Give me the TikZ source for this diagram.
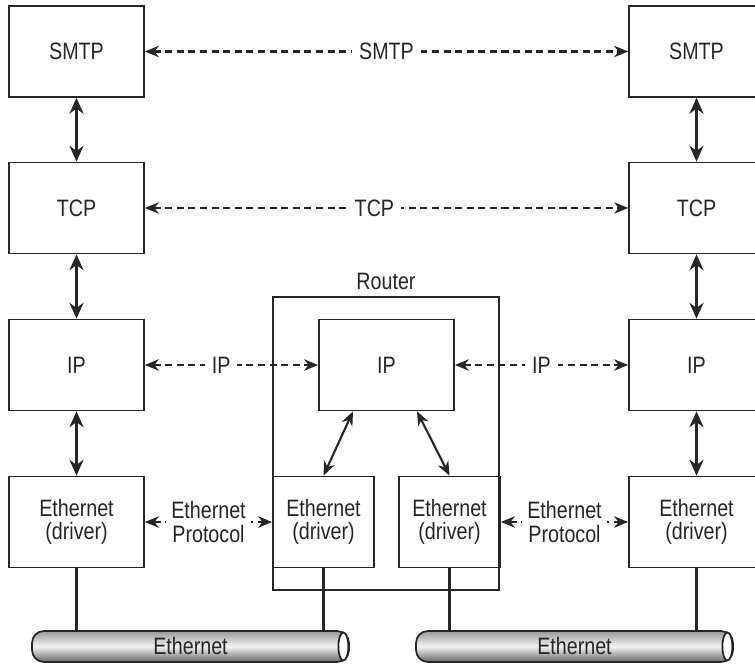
\documentclass[tikz,border=0pt]{standalone}
\usepackage{fontspec}
\setmainfont{Liberation Sans}[FakeStretch=0.83]
\usetikzlibrary{arrows.meta}

\begin{document}
\begin{tikzpicture}[
  font=\fontsize{13.5}{13.3}\selectfont,
  layer/.style={draw=black!85, line width=1pt, minimum width=2.7cm, minimum height=1.82cm, align=center, text=black!85},
  ethbox/.style={layer, minimum width=2.02cm},
  stack/.style={{Stealth[length=9pt,width=8pt]}-{Stealth[length=9pt,width=8pt]}, line width=1.8pt, black!85},
  peer/.style={{Stealth[length=8pt,width=6.5pt]}-{Stealth[length=8pt,width=6.5pt]}, dash pattern=on 4pt off 2.6pt, line width=1.2pt, black!85},
  link/.style={{Stealth[length=8pt,width=6.5pt]}-{Stealth[length=8pt,width=6.5pt]}, line width=1.2pt, black!85},
  tag/.style={fill=white, inner xsep=0.14cm, text=black!85, align=center},
  wire/.style={draw=black!85, line width=1.3pt},
  cable/.style={draw=black!85, line width=1pt, rounded corners=0.24cm, minimum width=6.34cm, minimum height=0.62cm, top color=black!40, bottom color=black!60, middle color=black!5, text=black!85},
  cableend/.style={draw=black!85, line width=1pt, fill=white}
]
\useasboundingbox (0,0) rectangle (15.1,13.28);

% router frame
\node[draw=black!85, line width=1pt, minimum width=4.52cm, minimum height=5.86cm, label={[text=black!85]above:Router}] (router) at (7.72,4.41) {};

% host A
\node[layer] (smtpA) at (1.53,12.25) {SMTP};
\node[layer] (tcpA) at (1.53,9.12) {TCP};
\node[layer] (ipA) at (1.53,5.98) {IP};
\node[layer] (ethA) at (1.53,2.84) {Ethernet\\(driver)};

% host B
\node[layer] (smtpB) at (13.93,12.25) {SMTP};
\node[layer] (tcpB) at (13.93,9.12) {TCP};
\node[layer] (ipB) at (13.93,5.98) {IP};
\node[layer] (ethB) at (13.93,2.84) {Ethernet\\(driver)};

% router layers
\node[layer] (ipR) at (7.73,5.98) {IP};
\node[ethbox] (ethRL) at (6.47,2.84) {Ethernet\\(driver)};
\node[ethbox] (ethRR) at (8.99,2.84) {Ethernet\\(driver)};

% cables
\node[cable] (cableA) at (3.81,0.35) {Ethernet};
\node[cable] (cableB) at (11.49,0.35) {Ethernet};
\draw[cableend] ([xshift=-0.13cm]cableA.east) ellipse [x radius=0.1cm, y radius=0.28cm];
\draw[cableend] ([xshift=-0.13cm]cableB.east) ellipse [x radius=0.1cm, y radius=0.28cm];

% stacks
\draw[stack] (smtpA) -- (tcpA);
\draw[stack] (tcpA) -- (ipA);
\draw[stack] (ipA) -- (ethA);
\draw[stack] (smtpB) -- (tcpB);
\draw[stack] (tcpB) -- (ipB);
\draw[stack] (ipB) -- (ethB);
\draw[link] ([xshift=-0.67cm]ipR.south) -- (ethRL.north);
\draw[link] ([xshift=0.61cm]ipR.south) -- (ethRR.north);

% peer protocols
\draw[peer] (smtpA) -- (smtpB) node[tag, midway] {SMTP};
\draw[peer] (tcpA) -- (tcpB) node[tag, pos=0.475] {TCP};
\draw[peer] (ipA) -- (ipR) node[tag, pos=0.44] {IP};
\draw[peer] (ipR) -- (ipB) node[tag, midway] {IP};
\draw[peer] (ethA) -- (ethRL) node[tag, midway, inner xsep=0.1cm] {Ethernet\\Protocol};
\draw[peer] (ethRR) -- (ethB) node[tag, midway, inner xsep=0.1cm] {Ethernet\\Protocol};

% wires to cables
\draw[wire] (ethA.south) -- (ethA.south |- cableA.north);
\draw[wire] (ethRL.south) -- (ethRL.south |- cableA.north);
\draw[wire] (ethRR.south) -- (ethRR.south |- cableB.north);
\draw[wire] (ethB.south) -- (ethB.south |- cableB.north);
\end{tikzpicture}
\end{document}
